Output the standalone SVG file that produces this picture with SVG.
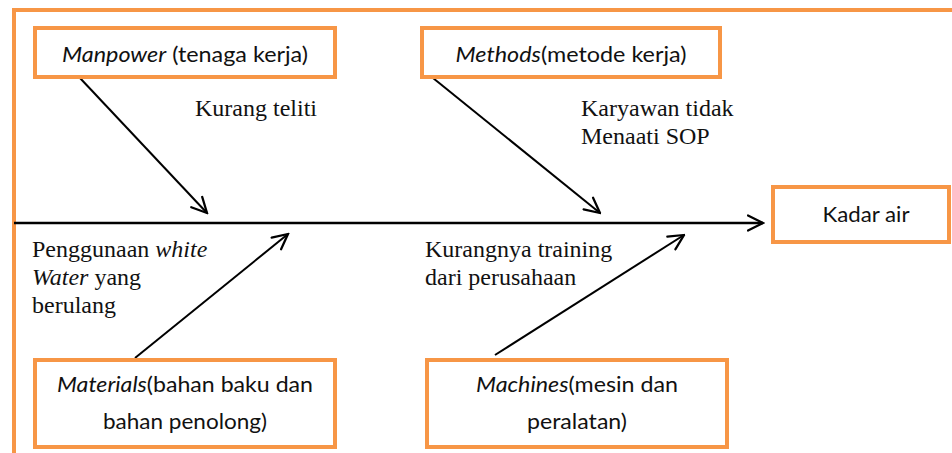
<svg xmlns="http://www.w3.org/2000/svg" width="952" height="453" viewBox="0 0 952 453">
  <defs>
    <marker id="open-arrow-lg" viewBox="0 0 12 12" refX="11" refY="6" markerWidth="18" markerHeight="18" markerUnits="userSpaceOnUse" orient="auto">
      <path d="M1,1 L11,6 L1,11" fill="none" stroke="#000" stroke-width="1.5" stroke-linecap="round"/>
    </marker>
  </defs>
  <style>
    .frame { fill: none; stroke: #F79646; stroke-width: 4; }
    .box { fill: #fff; stroke: #F79646; stroke-width: 4; }
    .lbl { font-family: Lato, "Open Sans", "Liberation Sans", sans-serif; font-size: 21px; fill: #111; text-anchor: middle; }
    .note { font-family: "Liberation Serif", "Times New Roman", serif; font-size: 24px; fill: #111; }
    .bone { stroke: #000; stroke-width: 2; fill: none; }
    .spine { stroke: #000; stroke-width: 2.5; fill: none; }
  </style>

  <rect width="952" height="453" fill="#fff"/>

  <!-- outer border -->
  <path class="frame" d="M14,453 L14,10 L952,10"/>

  <!-- connectors: spine and cause bones -->
  <g id="connectors">
    <line class="spine" x1="14" y1="223" x2="763" y2="223" marker-end="url(#open-arrow-lg)"/>
    <line class="bone" x1="80" y1="78" x2="207" y2="213" marker-end="url(#open-arrow-lg)"/>
    <line class="bone" x1="433" y1="78" x2="600" y2="213" marker-end="url(#open-arrow-lg)"/>
    <line class="bone" x1="135" y1="358" x2="288" y2="234" marker-end="url(#open-arrow-lg)"/>
    <line class="bone" x1="495" y1="355" x2="684" y2="235" marker-end="url(#open-arrow-lg)"/>
  </g>

  <!-- cause category boxes -->
  <g id="manpower">
    <rect class="box" x="35" y="28" width="300" height="49"/>
    <text class="lbl" x="185" y="62" textLength="246" lengthAdjust="spacingAndGlyphs"><tspan font-style="italic">Manpower</tspan> (tenaga kerja)</text>
  </g>
  <g id="methods">
    <rect class="box" x="422" y="28" width="298" height="49"/>
    <text class="lbl" x="571" y="62" textLength="231" lengthAdjust="spacingAndGlyphs"><tspan font-style="italic">Methods</tspan>(metode kerja)</text>
  </g>
  <g id="materials">
    <rect class="box" x="35" y="360" width="300" height="87"/>
    <text class="lbl" x="185" y="392" textLength="256" lengthAdjust="spacingAndGlyphs"><tspan font-style="italic">Materials</tspan>(bahan baku dan</text>
    <text class="lbl" x="185" y="429" textLength="164" lengthAdjust="spacingAndGlyphs">bahan penolong)</text>
  </g>
  <g id="machines">
    <rect class="box" x="427" y="360" width="300" height="87"/>
    <text class="lbl" x="577" y="392" textLength="202" lengthAdjust="spacingAndGlyphs"><tspan font-style="italic">Machines</tspan>(mesin dan</text>
    <text class="lbl" x="577" y="429" textLength="100" lengthAdjust="spacingAndGlyphs">peralatan)</text>
  </g>

  <!-- effect box -->
  <g id="kadar-air">
    <rect class="box" x="773" y="187" width="176" height="55"/>
    <text class="lbl" x="866" y="222" textLength="87" lengthAdjust="spacingAndGlyphs">Kadar air</text>
  </g>

  <!-- cause notes -->
  <g id="note-manpower">
    <text class="note" x="195" y="116">Kurang teliti</text>
  </g>
  <g id="note-methods">
    <text class="note" x="581" y="116">Karyawan tidak</text>
    <text class="note" x="581" y="144">Menaati SOP</text>
  </g>
  <g id="note-materials">
    <text class="note" x="32" y="257">Penggunaan <tspan font-style="italic">white</tspan></text>
    <text class="note" x="32" y="285"><tspan font-style="italic">Water</tspan> yang</text>
    <text class="note" x="32" y="313">berulang</text>
  </g>
  <g id="note-machines">
    <text class="note" x="425" y="257">Kurangnya training</text>
    <text class="note" x="425" y="285">dari perusahaan</text>
  </g>
</svg>
